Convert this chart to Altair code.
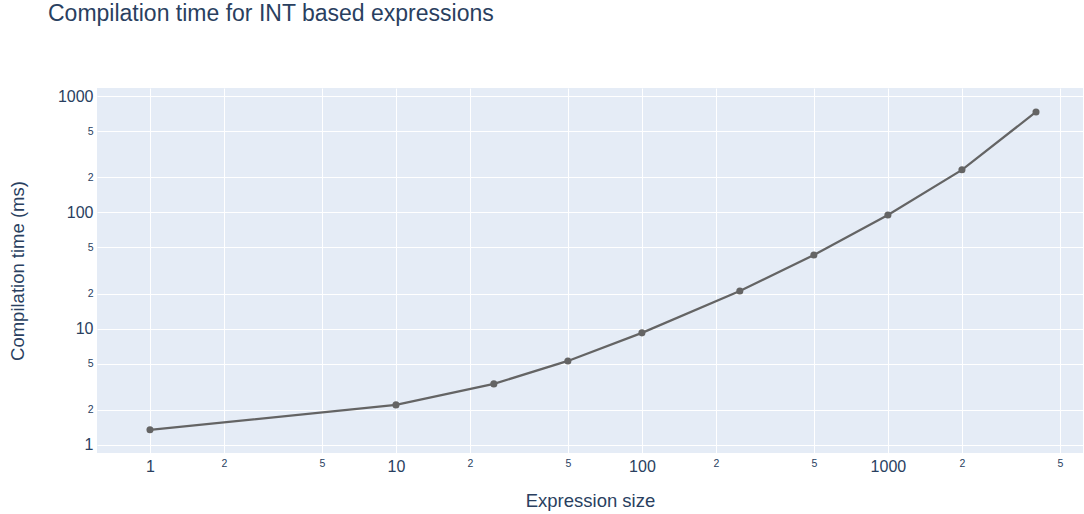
import altair as alt
import pandas as pd

expr_size = [1, 10, 25, 50, 100, 250, 500, 1000, 2000, 4000]
comp_time = [1.35, 2.21, 3.35, 5.28, 9.2, 21.1, 43, 95, 232, 730]

x_ticks = [1, 2, 5, 10, 20, 50, 100, 200, 500, 1000, 2000, 5000]
y_ticks = [1, 2, 5, 10, 20, 50, 100, 200, 500, 1000]

df = pd.DataFrame({"size": expr_size, "time": comp_time})

FONT = "Liberation Sans"
TXT = "#2a3f5f"
major_test = "indexof([1,10,100,1000], datum.value) >= 0"
label_expr = ("indexof([1,10,100,1000], datum.value) >= 0 ? format(datum.value,'d') : "
              "format(datum.value / pow(10, floor(log(datum.value)/LN10 + 1e-9)), 'd')")

x_axis = alt.Axis(
    values=x_ticks, labelExpr=label_expr, title="Expression size",
    grid=True, gridColor="white", gridWidth=1, ticks=False, domain=False,
    labelFont=FONT, labelColor=TXT,
    labelFontSize={"condition": {"test": major_test, "value": 16}, "value": 10.5},
    labelPadding=5, titleFont=FONT, titleFontSize=18.5, titleFontWeight="normal",
    titleColor=TXT, titlePadding=17, labelFlush=False,
)
y_axis = alt.Axis(
    values=y_ticks, labelExpr=label_expr, title="Compilation time (ms)",
    grid=True, gridColor="white", gridWidth=1, ticks=False, domain=False,
    labelFont=FONT, labelColor=TXT,
    labelFontSize={"condition": {"test": major_test, "value": 16}, "value": 10.5},
    labelPadding=4, titleFont=FONT, titleFontSize=18.5, titleFontWeight="normal",
    titleColor=TXT, titlePadding=30, labelFlush=False,
)

base = alt.Chart(df).encode(
    x=alt.X("size:Q", scale=alt.Scale(type="log", domain=[0.609, 6210], nice=False), axis=x_axis),
    y=alt.Y("time:Q", scale=alt.Scale(type="log", domain=[0.853, 1172], nice=False), axis=y_axis),
)

line = base.mark_line(color="#646464", strokeWidth=2.2)
pts = base.mark_circle(color="#646464", size=50, opacity=1)

chart = (line + pts).properties(
    width=986, height=365,
    title=alt.TitleParams(
        "Compilation time for INT based expressions", anchor="start", frame="group",
        dx=-49, font=FONT, fontSize=23, fontWeight="normal", color=TXT, offset=62,
    ),
    padding={"left": 97, "top": 88, "right": 1, "bottom": 61},
    autosize=alt.AutoSizeParams(type="none"),
).configure_view(fill="#E5ECF6", stroke=None)

chart.save("out.html", embed_options={"renderer": "svg", "actions": False})
